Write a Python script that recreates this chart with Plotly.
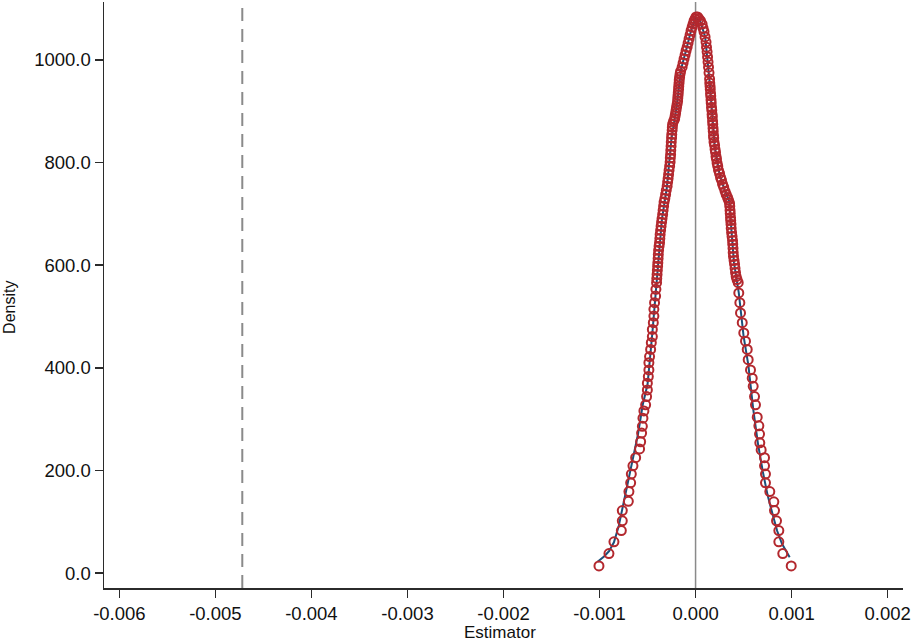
import plotly.graph_objects as go

# ---------------- data ----------------
circ_left_x = [-0.001006,-0.000902,-0.000850,-0.000773,-0.000763,-0.000763,-0.000700,-0.000694,-0.000676,-0.000669,
               -0.000652,-0.000624,-0.000583,-0.000572,-0.000562,-0.000554,-0.000548,-0.000538,-0.000520,-0.000510,
               -0.000502,-0.000502,-0.000492,-0.000486,-0.000486,-0.000479,-0.000468,-0.000461,-0.000450,-0.000450,
               -0.000440,-0.000434,-0.000434,-0.000427,-0.000416,-0.000413,
               -0.000406,-0.000401,-0.000395,-0.000390,-0.000385,-0.000375,-0.000369,-0.000359,-0.000349,-0.000338,
               -0.000328,-0.000312,-0.000296,-0.000286,-0.000276,-0.000265,-0.000260,-0.000255,-0.000250,-0.000244,
               -0.000239,-0.000218,-0.000208,-0.000198,-0.000187,-0.000182,-0.000177,-0.000172,-0.000166,-0.000156,
               -0.000140,-0.000130,-0.000120,-0.000109,-0.000099,-0.000088,-0.000078,-0.000068,-0.000057,-0.000047,
               -0.000036,-0.000026,-0.000016,-0.000005,0.000005]
circ_left_y = [14,38,61,83,102,122,140,159,176,193,
               209,225,242,256,273,286,302,316,328,344,
               357,370,383,396,410,422,436,449,461,475,
               488,501,514,527,540,553,
               566,582,598,613,629,644,660,676,691,707,
               723,738,754,769,785,801,816,832,848,863,
               875,885,896,908,920,932,943,955,967,978,
               986,994,1002,1010,1018,1025,1033,1041,1049,1057,
               1064,1070,1076,1080,1084]

# extra readings in the dense upper band (left flank)
circ_left_dense_x = [-0.000404,-0.000398,-0.000393,-0.000388,-0.000380,-0.000372,-0.000364,-0.000354,-0.000343,-0.000333,
                     -0.000320,-0.000305,-0.000291,-0.000281,-0.000270,-0.000263,-0.000258,-0.000253,-0.000248,-0.000242,
                     -0.000229,-0.000213,-0.000203,-0.000192,-0.000185,-0.000180,-0.000175,-0.000170,-0.000161]
circ_left_dense_y = [574,590,605,621,637,652,668,684,699,715,
                     730,746,762,777,793,809,824,840,855,869,
                     881,891,902,914,926,937,949,961,973]

circ_right_x = [0.000021,0.000036,0.000052,0.000068,0.000078,0.000088,0.000099,0.000109,0.000114,0.000120,
                0.000125,0.000130,0.000135,0.000140,0.000146,0.000151,0.000156,0.000161,0.000166,0.000172,
                0.000177,0.000182,0.000187,0.000192,0.000203,0.000213,0.000224,0.000239,0.000260,0.000281,
                0.000307,0.000333,0.000354,0.000359,0.000364,0.000369,0.000375,0.000385,0.000390,0.000395,
                0.000406,0.000416,0.000432,
                0.000444,0.000450,0.000461,0.000468,0.000486,0.000502,0.000520,0.000538,0.000548,0.000572,
                0.000590,0.000600,0.000614,0.000624,0.000642,0.000659,0.000666,0.000669,0.000683,0.000718,
                0.000718,0.000728,0.000728,0.000773,0.000815,0.000822,0.000843,0.000867,0.000867,0.000908,
                0.000996]
circ_right_y = [1084,1080,1076,1070,1062,1055,1045,1035,1025,1016,
                1006,996,986,975,963,949,935,922,908,894,
                881,867,853,840,826,812,799,785,771,758,
                744,732,721,707,693,680,664,648,633,617,
                602,586,572,
                566,546,527,507,488,468,452,436,416,396,
                380,364,344,328,304,287,271,254,240,225,
                209,193,176,159,139,122,102,83,61,38,
                14]

# extra readings in the dense upper band (right flank)
circ_right_dense_x = [0.000148,0.000153,0.000158,0.000163,0.000169,0.000174,0.000179,0.000184,0.000189,0.000198,
                      0.000208,0.000218,0.000231,0.000250,0.000270,0.000293,0.000319,0.000343,0.000356,0.000361,
                      0.000366,0.000371,0.000380,0.000387,0.000392,0.000401,0.000411,0.000423]
circ_right_dense_y = [955,943,930,916,902,889,875,861,848,834,
                      820,807,793,779,766,752,738,727,715,701,
                      687,672,656,641,625,609,594,578]

line_x = [-0.00102,-0.00095,-0.0009,-0.00085,-0.0008,-0.00075,-0.0007,-0.00065,-0.0006,-0.00055,
          -0.0005,-0.00045,-0.0004,-0.00035,-0.0003,-0.00025,-0.0002,-0.00015,-0.0001,-0.00005,
          0.0,0.00005,0.0001,0.00015,0.0002,0.00025,0.0003,0.00035,0.0004,0.00045,
          0.0005,0.00055,0.0006,0.00065,0.0007,0.00075,0.0008,0.00085,0.0009,0.00098]
line_y = [22,33,43,60,92,135,180,222,270,328,
          368,468,578,690,750,848,905,983,1018,1055,
          1083,1075,1045,950,830,777,748,725,605,546,
          462,405,320,252,198,152,116,82,57,31]

true_estimate = -0.00472
zero_ref = 0.0

x_tickvals = [-0.006,-0.005,-0.004,-0.003,-0.002,-0.001,0.0,0.001,0.002]
x_ticktext = ["-0.006","-0.005","-0.004","-0.003","-0.002","-0.001","0.000","0.001","0.002"]
y_tickvals = [0,200,400,600,800,1000]
y_ticktext = ["0.0","200.0","400.0","600.0","800.0","1000.0"]

x_title = "Estimator"
y_title = "Density"

# ---------------- figure ----------------
RED = "#b3282e"
NAVY = "#1a4f7a"
GREY = "#8a8a8a"
AXIS = "#2b2b2b"
FONT = "Liberation Sans, Arial, sans-serif"
TICKSIZE = 18.5

all_x = circ_left_x + circ_left_dense_x + circ_right_dense_x + circ_right_x
all_y = circ_left_y + circ_left_dense_y + circ_right_dense_y + circ_right_y

fig = go.Figure()
fig.add_trace(go.Scatter(x=line_x, y=line_y, mode="lines",
                         line=dict(color=NAVY, width=2), hoverinfo="skip", showlegend=False))
fig.add_trace(go.Scatter(x=all_x, y=all_y, mode="markers",
                         marker=dict(symbol="circle-open", size=9, color=RED, line=dict(width=2, color=RED)),
                         hoverinfo="skip", showlegend=False))

fig.add_shape(type="line", xref="x", yref="paper", x0=zero_ref, x1=zero_ref, y0=0, y1=1,
              line=dict(color=GREY, width=1.5), layer="below")
fig.add_shape(type="line", xref="x", yref="paper", x0=true_estimate, x1=true_estimate, y0=0, y1=1,
              line=dict(color=GREY, width=2, dash="13px,8px"), layer="below")

fig.add_annotation(text=y_title, xref="paper", yref="paper", x=0, y=0.478, xshift=-94,
                   textangle=-90, showarrow=False, xanchor="center", yanchor="middle",
                   font=dict(family=FONT, size=16, color="#111"))
fig.add_annotation(text=x_title, xref="paper", yref="paper", x=0.4956, y=0, yshift=-44,
                   showarrow=False, xanchor="center", yanchor="middle",
                   font=dict(family=FONT, size=17, color="#111"))

fig.update_layout(
    width=913, height=642,
    margin=dict(l=104, r=10, t=2, b=54, autoexpand=False),
    paper_bgcolor="white", plot_bgcolor="white",
    font=dict(family=FONT, size=TICKSIZE, color="#111"),
    showlegend=False, hovermode=False,
)
fig.update_xaxes(range=[-0.00616, 0.00216], tickvals=x_tickvals, ticktext=x_ticktext,
                 showgrid=False, zeroline=False, showline=True, linecolor=AXIS, linewidth=1.5,
                 ticks="outside", ticklen=8, tickwidth=1.5, tickcolor=AXIS, automargin=False,
                 tickfont=dict(family=FONT, size=TICKSIZE, color="#111"))
fig.update_yaxes(range=[-29, 1113], tickvals=y_tickvals, ticktext=y_ticktext,
                 showgrid=False, zeroline=False, showline=True, linecolor=AXIS, linewidth=1.5,
                 ticks="outside", ticklen=8, tickwidth=1.5, tickcolor=AXIS, automargin=False,
                 tickfont=dict(family=FONT, size=TICKSIZE, color="#111"))

fig.write_html("out.html", config={"displayModeBar": False, "staticPlot": True},
               post_script="document.body.style.margin='0';document.body.style.overflow='hidden';")
